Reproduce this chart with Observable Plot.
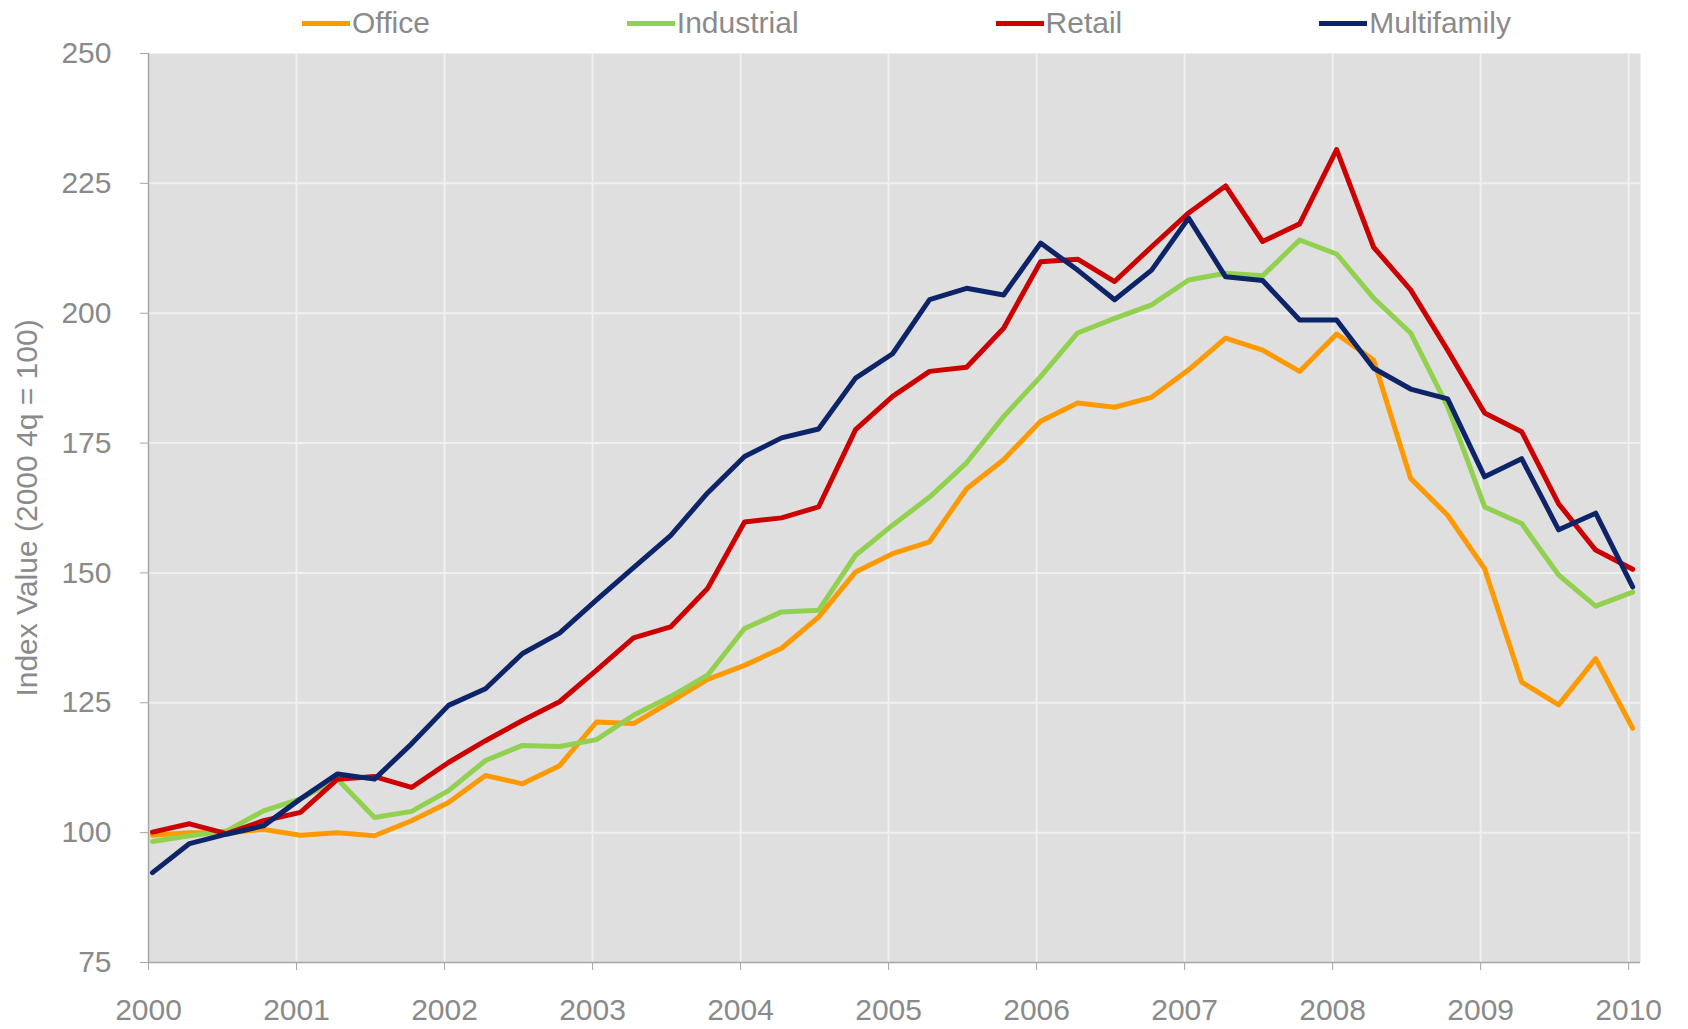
<!DOCTYPE html>
<html><head><meta charset="utf-8">
<script src="https://cdn.jsdelivr.net/npm/d3@7"></script>
<script src="https://cdn.jsdelivr.net/npm/@observablehq/plot@0.6"></script>
<style>
html,body{margin:0;padding:0;background:#fff;}
body{width:1688px;height:1029px;overflow:hidden;font-family:"Liberation Sans",Arial,sans-serif;}
#legend{height:46px;display:flex;align-items:center;padding-left:302px;gap:197px;box-sizing:border-box;}
.item{display:flex;align-items:center;font-size:30px;color:#8a8a8a;line-height:1;}
.sw{width:48px;height:5px;margin-right:2px;}
#chart svg{display:block;overflow:visible;}
</style></head><body>
<div id="legend"></div><div id="chart"></div>
<script>
const series = ["Office", "Industrial", "Retail", "Multifamily"];
const colors = ["#FF9900", "#92D050", "#CC0000", "#0D2469"];
const years = [2000, 2001, 2002, 2003, 2004, 2005, 2006, 2007, 2008, 2009, 2010];
const yTicks = [75, 100, 125, 150, 175, 200, 225, 250];
const yLabel = "Index Value (2000 4q = 100)";

const office = [99.5, 100, 100, 100.6, 99.5, 100, 99.4, 102.3, 105.8, 111,
  109.4, 112.9, 121.3, 121, 125.2, 129.5, 132.2, 135.5, 141.5, 150.2,
  153.7, 156, 166.2, 171.8, 179.2, 182.7, 181.9, 183.8, 189.1, 195.2,
  192.9, 188.8, 196, 191, 168.2, 161.1, 150.8, 129, 124.6, 133.5, 120.1];
const industrial = [98.3, 99.4, 100.3, 104.2, 106.5, 110.3, 102.9, 104.1, 108.1, 113.9,
  116.8, 116.6, 117.9, 122.6, 126.2, 130.3, 139.3, 142.5, 142.8, 153.4,
  159.2, 164.6, 171.2, 180.1, 187.8, 196.2, 199, 201.6, 206.4, 207.7,
  207.2, 214.1, 211.4, 202.9, 196.2, 182, 162.7, 159.5, 149.6, 143.6, 146.3];
const retail = [100.1, 101.7, 99.8, 102.3, 103.9, 110.3, 110.8, 108.7, 113.5, 117.7,
  121.6, 125.2, 131.3, 137.5, 139.6, 147, 159.8, 160.6, 162.7, 177.6,
  184, 188.8, 189.6, 197.1, 209.9, 210.4, 206.1, 212.8, 219.3, 224.5,
  213.8, 217.2, 231.5, 212.7, 204.5, 192.9, 180.8, 177.2, 163.3, 154.4, 150.7];
const multifamily = [92.3, 97.9, 99.7, 101.3, 106.5, 111.3, 110.3, 117.1, 124.5, 127.7,
  134.5, 138.4, 144.8, 151, 157.2, 165.4, 172.4, 176, 177.7, 187.5,
  192.2, 202.6, 204.8, 203.5, 213.5, 208.3, 202.6, 208.3, 218.3, 207,
  206.3, 198.7, 198.7, 189.4, 185.4, 183.5, 168.5, 172, 158.3, 161.5, 147.3];

const values = {Office: office, Industrial: industrial, Retail: retail, Multifamily: multifamily};
const quarters = d3.range(office.length).map(i => 2000 + i / 4);
const data = series.flatMap(s => values[s].map((v, i) => ({series: s, t: quarters[i], v})));

// legend
const legend = document.getElementById("legend");
series.forEach((s, i) => {
  const it = document.createElement("div");
  it.className = "item";
  const sw = document.createElement("span");
  sw.className = "sw";
  sw.style.background = colors[i];
  const tx = document.createElement("span");
  tx.textContent = s;
  it.appendChild(sw); it.appendChild(tx);
  legend.appendChild(it);
});

const textColor = "#8a8a8a";
const axisColor = "#A6A6A6";
const chart = Plot.plot({
  width: 1688, height: 983,
  marginTop: 7, marginBottom: 67, marginLeft: 148, marginRight: 48,
  style: {fontFamily: "Liberation Sans, Arial, sans-serif", fontSize: "30px", color: textColor, background: "transparent", overflow: "visible"},
  x: {domain: [2000, 2010.08]},
  y: {domain: [75, 250]},
  color: {domain: series, range: colors},
  marks: [
    Plot.frame({fill: "#DFDFDF"}),
    Plot.gridX(years.slice(1), {stroke: "#F0F0F0", strokeOpacity: 1, strokeWidth: 2}),
    Plot.gridY(yTicks.slice(1, -1), {stroke: "#F0F0F0", strokeOpacity: 1, strokeWidth: 2}),
    Plot.ruleX([2000], {stroke: axisColor, strokeWidth: 1.5}),
    Plot.ruleY([75], {stroke: axisColor, strokeWidth: 1.5}),
    Plot.axisX(years, {tickSize: 8, tickPadding: 28, stroke: axisColor, fill: textColor, fontSize: 30, label: null, tickFormat: d => String(d)}),
    Plot.axisY(yTicks, {tickSize: 8, tickPadding: 29, stroke: axisColor, fill: textColor, fontSize: 30, label: null}),
    Plot.line(data, {x: "t", y: "v", z: "series", stroke: "series", strokeWidth: 5, dx: 4}),
    Plot.text([yLabel], {frameAnchor: "left", textAnchor: "middle", rotate: -90, dx: -121, fontSize: 30, fill: textColor})
  ]
});
document.getElementById("chart").appendChild(chart);
</script>
</body></html>
